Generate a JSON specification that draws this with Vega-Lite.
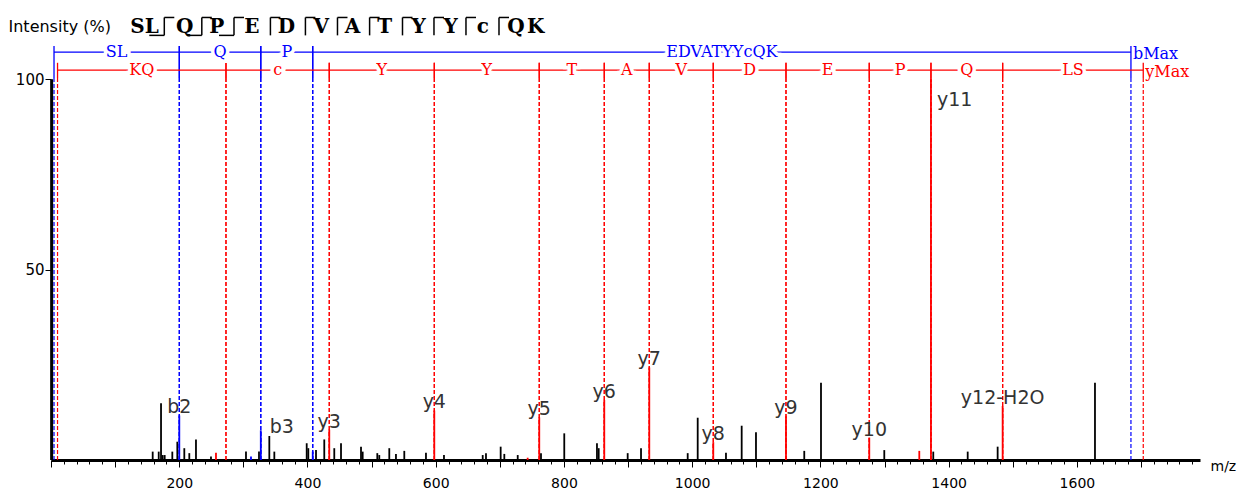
{
  "$schema": "https://vega.github.io/schema/vega-lite/v6.json",
  "width": 1149,
  "height": 457,
  "autosize": {"type": "none"},
  "padding": {"left": 51, "top": 3, "right": 59, "bottom": 33},
  "background": "white",
  "config": {
    "view": {"stroke": null},
    "axis": {"labelFont": "DejaVu Sans", "labelFontSize": 14, "labelColor": "#000000", "labelFlush": false, "labelBound": false, "titleFont": "DejaVu Sans", "titleColor": "#000000", "titleFontWeight": "normal"}
  },
  "resolve": {"axis": {"x": "independent"}},
  "datasets": {
    "peaks": [
      {"mz": 158.6, "intensity": 2.2, "ion": "none", "label": ""},
      {"mz": 168.0, "intensity": 2.2, "ion": "none", "label": ""},
      {"mz": 171.6, "intensity": 14.9, "ion": "none", "label": ""},
      {"mz": 174.2, "intensity": 1.3, "ion": "none", "label": ""},
      {"mz": 177.3, "intensity": 1.3, "ion": "none", "label": ""},
      {"mz": 189.2, "intensity": 2.2, "ion": "none", "label": ""},
      {"mz": 197.0, "intensity": 4.8, "ion": "none", "label": ""},
      {"mz": 200.1, "intensity": 11.7, "ion": "b", "label": "b2"},
      {"mz": 207.9, "intensity": 3.1, "ion": "none", "label": ""},
      {"mz": 215.7, "intensity": 1.8, "ion": "none", "label": ""},
      {"mz": 226.1, "intensity": 5.4, "ion": "none", "label": ""},
      {"mz": 249.5, "intensity": 0.9, "ion": "none", "label": ""},
      {"mz": 257.3, "intensity": 1.9, "ion": "y", "label": ""},
      {"mz": 304.1, "intensity": 2.2, "ion": "none", "label": ""},
      {"mz": 311.9, "intensity": 0.9, "ion": "b", "label": ""},
      {"mz": 324.4, "intensity": 2.2, "ion": "none", "label": ""},
      {"mz": 327.2, "intensity": 7.8, "ion": "b", "label": "b3"},
      {"mz": 340.5, "intensity": 6.3, "ion": "none", "label": ""},
      {"mz": 348.3, "intensity": 2.2, "ion": "none", "label": ""},
      {"mz": 398.8, "intensity": 4.4, "ion": "none", "label": ""},
      {"mz": 401.3, "intensity": 3.1, "ion": "none", "label": ""},
      {"mz": 408.2, "intensity": 2.2, "ion": "b", "label": ""},
      {"mz": 413.3, "intensity": 2.6, "ion": "none", "label": ""},
      {"mz": 426.2, "intensity": 5.4, "ion": "none", "label": ""},
      {"mz": 434.0, "intensity": 8.0, "ion": "y", "label": "y3"},
      {"mz": 441.8, "intensity": 3.1, "ion": "none", "label": ""},
      {"mz": 452.3, "intensity": 4.4, "ion": "none", "label": ""},
      {"mz": 483.5, "intensity": 3.5, "ion": "none", "label": ""},
      {"mz": 486.1, "intensity": 2.2, "ion": "none", "label": ""},
      {"mz": 508.9, "intensity": 1.8, "ion": "none", "label": ""},
      {"mz": 512.0, "intensity": 1.3, "ion": "none", "label": ""},
      {"mz": 527.6, "intensity": 3.1, "ion": "none", "label": ""},
      {"mz": 538.0, "intensity": 1.6, "ion": "none", "label": ""},
      {"mz": 551.0, "intensity": 2.4, "ion": "none", "label": ""},
      {"mz": 584.8, "intensity": 1.9, "ion": "none", "label": ""},
      {"mz": 597.8, "intensity": 13.0, "ion": "y", "label": "y4"},
      {"mz": 612.9, "intensity": 1.3, "ion": "none", "label": ""},
      {"mz": 673.3, "intensity": 1.3, "ion": "none", "label": ""},
      {"mz": 678.4, "intensity": 1.8, "ion": "none", "label": ""},
      {"mz": 701.3, "intensity": 3.5, "ion": "none", "label": ""},
      {"mz": 707.0, "intensity": 1.6, "ion": "none", "label": ""},
      {"mz": 727.9, "intensity": 1.3, "ion": "none", "label": ""},
      {"mz": 743.4, "intensity": 0.6, "ion": "y", "label": ""},
      {"mz": 761.5, "intensity": 11.2, "ion": "y", "label": "y5"},
      {"mz": 764.2, "intensity": 1.8, "ion": "none", "label": ""},
      {"mz": 800.5, "intensity": 7.0, "ion": "none", "label": ""},
      {"mz": 851.5, "intensity": 4.4, "ion": "none", "label": ""},
      {"mz": 854.2, "intensity": 3.1, "ion": "none", "label": ""},
      {"mz": 862.9, "intensity": 15.8, "ion": "y", "label": "y6"},
      {"mz": 899.4, "intensity": 1.8, "ion": "none", "label": ""},
      {"mz": 920.2, "intensity": 3.1, "ion": "none", "label": ""},
      {"mz": 933.1, "intensity": 24.3, "ion": "y", "label": "y7"},
      {"mz": 993.0, "intensity": 1.8, "ion": "none", "label": ""},
      {"mz": 1008.6, "intensity": 11.1, "ion": "none", "label": ""},
      {"mz": 1032.9, "intensity": 4.7, "ion": "y", "label": "y8"},
      {"mz": 1052.7, "intensity": 1.9, "ion": "none", "label": ""},
      {"mz": 1077.2, "intensity": 9.0, "ion": "none", "label": ""},
      {"mz": 1099.5, "intensity": 7.3, "ion": "none", "label": ""},
      {"mz": 1146.3, "intensity": 11.5, "ion": "y", "label": "y9"},
      {"mz": 1174.8, "intensity": 2.4, "ion": "none", "label": ""},
      {"mz": 1200.9, "intensity": 20.3, "ion": "none", "label": ""},
      {"mz": 1276.2, "intensity": 5.9, "ion": "y", "label": "y10"},
      {"mz": 1299.6, "intensity": 2.6, "ion": "none", "label": ""},
      {"mz": 1354.2, "intensity": 2.4, "ion": "y", "label": ""},
      {"mz": 1372.4, "intensity": 100, "ion": "y", "label": "y11"},
      {"mz": 1376.0, "intensity": 2.2, "ion": "none", "label": ""},
      {"mz": 1429.7, "intensity": 2.2, "ion": "none", "label": ""},
      {"mz": 1476.4, "intensity": 3.5, "ion": "none", "label": ""},
      {"mz": 1484.2, "intensity": 14.2, "ion": "y", "label": "y12-H2O"},
      {"mz": 1628.2, "intensity": 20.3, "ion": "none", "label": ""}
    ],
    "ladder": [
      {"seg": 1, "series": "b", "label": "SL", "start": 4.7, "end": 200.1},
      {"seg": 2, "series": "b", "label": "Q", "start": 200.1, "end": 327.2},
      {"seg": 3, "series": "b", "label": "P", "start": 327.2, "end": 408.2},
      {"seg": 4, "series": "b", "label": "EDVATYYcQK", "start": 408.2, "end": 1684.3},
      {"seg": 5, "series": "y", "label": "KQ", "start": 10.2, "end": 272.9},
      {"seg": 6, "series": "y", "label": "c", "start": 272.9, "end": 434.0},
      {"seg": 7, "series": "y", "label": "Y", "start": 434.0, "end": 597.8},
      {"seg": 8, "series": "y", "label": "Y", "start": 597.8, "end": 761.5},
      {"seg": 9, "series": "y", "label": "T", "start": 761.5, "end": 862.9},
      {"seg": 10, "series": "y", "label": "A", "start": 862.9, "end": 933.1},
      {"seg": 11, "series": "y", "label": "V", "start": 933.1, "end": 1032.9},
      {"seg": 12, "series": "y", "label": "D", "start": 1032.9, "end": 1146.3},
      {"seg": 13, "series": "y", "label": "E", "start": 1146.3, "end": 1276.2},
      {"seg": 14, "series": "y", "label": "P", "start": 1276.2, "end": 1372.4},
      {"seg": 15, "series": "y", "label": "Q", "start": 1372.4, "end": 1484.2},
      {"seg": 16, "series": "y", "label": "LS", "start": 1484.2, "end": 1703.5}
    ],
    "ends": [
      {"series": "b", "label": "bMax", "mz": 1684.3},
      {"series": "y", "label": "yMax", "mz": 1703.5}
    ],
    "residues": [
      {"aa": "S", "pos": 134.9}, {"aa": "L", "pos": 157.2}, {"aa": "Q", "pos": 208.4},
      {"aa": "P", "pos": 258.6}, {"aa": "E", "pos": 313.2}, {"aa": "D", "pos": 367.1},
      {"aa": "V", "pos": 421.7}, {"aa": "A", "pos": 470.2}, {"aa": "T", "pos": 520.3},
      {"aa": "Y", "pos": 573.3}, {"aa": "Y", "pos": 623.4}, {"aa": "c", "pos": 673.6},
      {"aa": "Q", "pos": 725.2}, {"aa": "K", "pos": 755.9}
    ],
    "brackets": [
      {"pos": 176.7, "b": true}, {"pos": 235.2, "b": true}, {"pos": 285.4, "b": true},
      {"pos": 342.2, "b": false}, {"pos": 396.8, "b": false}, {"pos": 446.8, "b": false},
      {"pos": 496.9, "b": false}, {"pos": 548.2, "b": false}, {"pos": 597.3, "b": false},
      {"pos": 647.2, "b": false}, {"pos": 698.7, "b": false}
    ]
  },
  "layer": [
    {
      "data": {"name": "ladder"},
      "transform": [{"fold": ["start", "end"], "as": ["edge", "mz"]}],
      "mark": {"type": "rule", "strokeDash": [4, 2], "strokeWidth": 1.2},
      "encoding": {
        "x": {
          "field": "mz", "type": "quantitative",
          "scale": {"domain": [0, 1792], "nice": false, "zero": false},
          "axis": {
            "orient": "bottom",
            "values": [0,100,200,300,400,500,600,700,800,900,1000,1100,1200,1300,1400,1500,1600,1700],
            "grid": false,
            "domainColor": "#000000", "domainWidth": 3,
            "tickColor": "#000000", "tickWidth": 1, "tickSize": 7,
            "labelExpr": "datum.value % 200 === 0 && datum.value > 0 ? datum.label : ''",
            "format": "d",
            "labelFontSize": 14, "labelPadding": 9, "labelOverlap": false,
            "title": "m/z", "titleX": 1159, "titleY": 6, "titleAlign": "left", "titleBaseline": "middle",
            "titleAngle": 0, "titleFontSize": 14
          }
        },
        "y": {
          "datum": 0, "type": "quantitative",
          "scale": {"domain": [0, 120], "nice": false},
          "axis": {
            "values": [50, 100], "grid": false, "domain": false,
            "tickColor": "#000000", "tickSize": 6, "tickWidth": 1,
            "labelFontSize": 15, "labelPadding": 1,
            "title": "Intensity (%)", "titleAngle": 0, "titleAlign": "left", "titleBaseline": "middle",
            "titleX": -43, "titleY": 23, "titleFontSize": 16
          }
        },
        "y2": {"datum": 100.3},
        "color": {
          "field": "series", "type": "nominal",
          "scale": {"domain": ["b", "y", "none"], "range": ["#0000ff", "#ff0000", "#000000"]},
          "legend": null
        }
      }
    },
    {
      "data": {"values": [{}]},
      "mark": {"type": "rule", "color": "#000000", "strokeWidth": 3},
      "encoding": {"x": {"datum": 1, "axis": null}, "y": {"datum": 0}, "y2": {"datum": 100}}
    },
    {
      "data": {"name": "peaks"},
      "mark": {"type": "rule", "strokeWidth": 1.8},
      "encoding": {
        "x": {
          "field": "mz", "type": "quantitative",
          "axis": {
            "orient": "bottom",
            "values": [20,40,60,80,120,140,160,180,220,240,260,280,320,340,360,380,420,440,460,480,520,540,560,580,620,640,660,680,720,740,760,780,820,840,860,880,920,940,960,980,1020,1040,1060,1080,1120,1140,1160,1180,1220,1240,1260,1280,1320,1340,1360,1380,1420,1440,1460,1480,1520,1540,1560,1580,1620,1640,1660,1680,1720,1740,1760,1780],
            "domain": false, "grid": false, "labels": false, "title": null,
            "tickColor": "#000000", "tickWidth": 1, "tickSize": 4
          }
        },
        "y": {"field": "intensity", "type": "quantitative"},
        "y2": {"datum": 0},
        "color": {"field": "ion", "type": "nominal", "legend": null}
      }
    },
    {
      "data": {"name": "ladder"},
      "transform": [{"filter": "datum.series === 'b'"}, {"fold": ["start", "end"], "as": ["edge", "mz"]}],
      "mark": {"type": "rule", "strokeWidth": 1.3},
      "encoding": {
        "x": {"field": "mz", "type": "quantitative", "axis": null},
        "y": {"datum": 100.3},
        "y2": {"datum": 108.7},
        "color": {"field": "series", "type": "nominal", "legend": null}
      }
    },
    {
      "data": {"name": "ladder"},
      "transform": [{"filter": "datum.series === 'y'"}, {"fold": ["start", "end"], "as": ["edge", "mz"]}],
      "mark": {"type": "rule", "strokeWidth": 1.3},
      "encoding": {
        "x": {"field": "mz", "type": "quantitative", "axis": null},
        "y": {"datum": 100.3},
        "y2": {"datum": 104.3},
        "color": {"field": "series", "type": "nominal", "legend": null}
      }
    },
    {
      "data": {"name": "ladder"},
      "transform": [{"filter": "datum.series === 'b'"}],
      "mark": {"type": "rule", "strokeWidth": 1.3},
      "encoding": {
        "x": {"field": "start", "type": "quantitative", "axis": null},
        "x2": {"field": "end"},
        "y": {"datum": 107.1},
        "color": {"field": "series", "type": "nominal", "legend": null}
      }
    },
    {
      "data": {"name": "ladder"},
      "transform": [{"filter": "datum.series === 'y'"}],
      "mark": {"type": "rule", "strokeWidth": 1.3},
      "encoding": {
        "x": {"field": "start", "type": "quantitative", "axis": null},
        "x2": {"field": "end"},
        "y": {"datum": 102.4},
        "color": {"field": "series", "type": "nominal", "legend": null}
      }
    },
    {
      "data": {"name": "ladder"},
      "transform": [
        {"filter": "datum.series === 'b'"},
        {"fold": ["start", "end"], "as": ["edge", "mz"]},
        {"aggregate": [{"op": "mean", "field": "mz", "as": "mid"}], "groupby": ["seg", "series", "label"]}
      ],
      "mark": {"type": "text", "font": "DejaVu Serif", "fontSize": 16, "baseline": "middle", "fill": "white", "stroke": "white", "strokeWidth": 7},
      "encoding": {"x": {"field": "mid", "type": "quantitative", "axis": null}, "y": {"datum": 107.1}, "text": {"field": "label"}}
    },
    {
      "data": {"name": "ladder"},
      "transform": [
        {"filter": "datum.series === 'y'"},
        {"fold": ["start", "end"], "as": ["edge", "mz"]},
        {"aggregate": [{"op": "mean", "field": "mz", "as": "mid"}], "groupby": ["seg", "series", "label"]}
      ],
      "mark": {"type": "text", "font": "DejaVu Serif", "fontSize": 16, "baseline": "middle", "fill": "white", "stroke": "white", "strokeWidth": 7},
      "encoding": {"x": {"field": "mid", "type": "quantitative", "axis": null}, "y": {"datum": 102.4}, "text": {"field": "label"}}
    },
    {
      "data": {"name": "ladder"},
      "transform": [
        {"filter": "datum.series === 'b'"},
        {"fold": ["start", "end"], "as": ["edge", "mz"]},
        {"aggregate": [{"op": "mean", "field": "mz", "as": "mid"}], "groupby": ["seg", "series", "label"]}
      ],
      "mark": {"type": "text", "font": "DejaVu Serif", "fontSize": 16, "baseline": "middle"},
      "encoding": {
        "x": {"field": "mid", "type": "quantitative", "axis": null}, "y": {"datum": 107.1}, "text": {"field": "label"},
        "color": {"field": "series", "type": "nominal", "legend": null}
      }
    },
    {
      "data": {"name": "ladder"},
      "transform": [
        {"filter": "datum.series === 'y'"},
        {"fold": ["start", "end"], "as": ["edge", "mz"]},
        {"aggregate": [{"op": "mean", "field": "mz", "as": "mid"}], "groupby": ["seg", "series", "label"]}
      ],
      "mark": {"type": "text", "font": "DejaVu Serif", "fontSize": 16, "baseline": "middle"},
      "encoding": {
        "x": {"field": "mid", "type": "quantitative", "axis": null}, "y": {"datum": 102.4}, "text": {"field": "label"},
        "color": {"field": "series", "type": "nominal", "legend": null}
      }
    },
    {
      "data": {"name": "ends"},
      "transform": [{"filter": "datum.series === 'b'"}],
      "mark": {"type": "text", "font": "DejaVu Serif", "fontSize": 16, "baseline": "middle", "align": "left", "dx": 2},
      "encoding": {
        "x": {"field": "mz", "type": "quantitative", "axis": null}, "y": {"datum": 106.6}, "text": {"field": "label"},
        "color": {"field": "series", "type": "nominal", "legend": null}
      }
    },
    {
      "data": {"name": "ends"},
      "transform": [{"filter": "datum.series === 'y'"}],
      "mark": {"type": "text", "font": "DejaVu Serif", "fontSize": 16, "baseline": "middle", "align": "left", "dx": 2},
      "encoding": {
        "x": {"field": "mz", "type": "quantitative", "axis": null}, "y": {"datum": 102.0}, "text": {"field": "label"},
        "color": {"field": "series", "type": "nominal", "legend": null}
      }
    },
    {
      "data": {"name": "peaks"},
      "transform": [{"filter": "datum.label !== '' && datum.label !== 'b3' && datum.label !== 'y11'"}],
      "mark": {"type": "text", "font": "DejaVu Sans", "fontSize": 19, "color": "#333333", "baseline": "middle", "align": "center", "dy": -8},
      "encoding": {"x": {"field": "mz", "type": "quantitative", "axis": null}, "y": {"field": "intensity", "type": "quantitative"}, "text": {"field": "label"}}
    },
    {
      "data": {"name": "peaks"},
      "transform": [{"filter": "datum.label === 'b3'"}],
      "mark": {"type": "text", "font": "DejaVu Sans", "fontSize": 19, "color": "#333333", "baseline": "middle", "align": "left", "dx": 9, "dy": -3},
      "encoding": {"x": {"field": "mz", "type": "quantitative", "axis": null}, "y": {"field": "intensity", "type": "quantitative"}, "text": {"field": "label"}}
    },
    {
      "data": {"name": "peaks"},
      "transform": [{"filter": "datum.label === 'y11'"}],
      "mark": {"type": "text", "font": "DejaVu Sans", "fontSize": 19, "color": "#333333", "baseline": "middle", "align": "left", "dx": 6, "dy": 21},
      "encoding": {"x": {"field": "mz", "type": "quantitative", "axis": null}, "y": {"field": "intensity", "type": "quantitative"}, "text": {"field": "label"}}
    },
    {
      "data": {"name": "residues"},
      "mark": {"type": "text", "font": "DejaVu Serif", "fontSize": 20, "fontWeight": "bold", "color": "#000000", "baseline": "middle", "align": "center"},
      "encoding": {"x": {"field": "pos", "type": "quantitative", "axis": null}, "y": {"datum": 113.7}, "text": {"field": "aa"}}
    },
    {
      "data": {"name": "brackets"},
      "mark": {"type": "rule", "color": "#000000", "strokeWidth": 1.5},
      "encoding": {"x": {"field": "pos", "type": "quantitative", "axis": null}, "y": {"datum": 111.5}, "y2": {"datum": 116.2}}
    },
    {
      "data": {"name": "brackets"},
      "mark": {"type": "rule", "color": "#000000", "strokeWidth": 1.5, "x2Offset": 10},
      "encoding": {"x": {"field": "pos", "type": "quantitative", "axis": null}, "x2": {"field": "pos"}, "y": {"datum": 116.2}}
    },
    {
      "data": {"name": "brackets"},
      "transform": [{"filter": "datum.b"}],
      "mark": {"type": "rule", "color": "#000000", "strokeWidth": 1.5, "xOffset": -15},
      "encoding": {"x": {"field": "pos", "type": "quantitative", "axis": null}, "x2": {"field": "pos"}, "y": {"datum": 111.5}}
    }
  ]
}
